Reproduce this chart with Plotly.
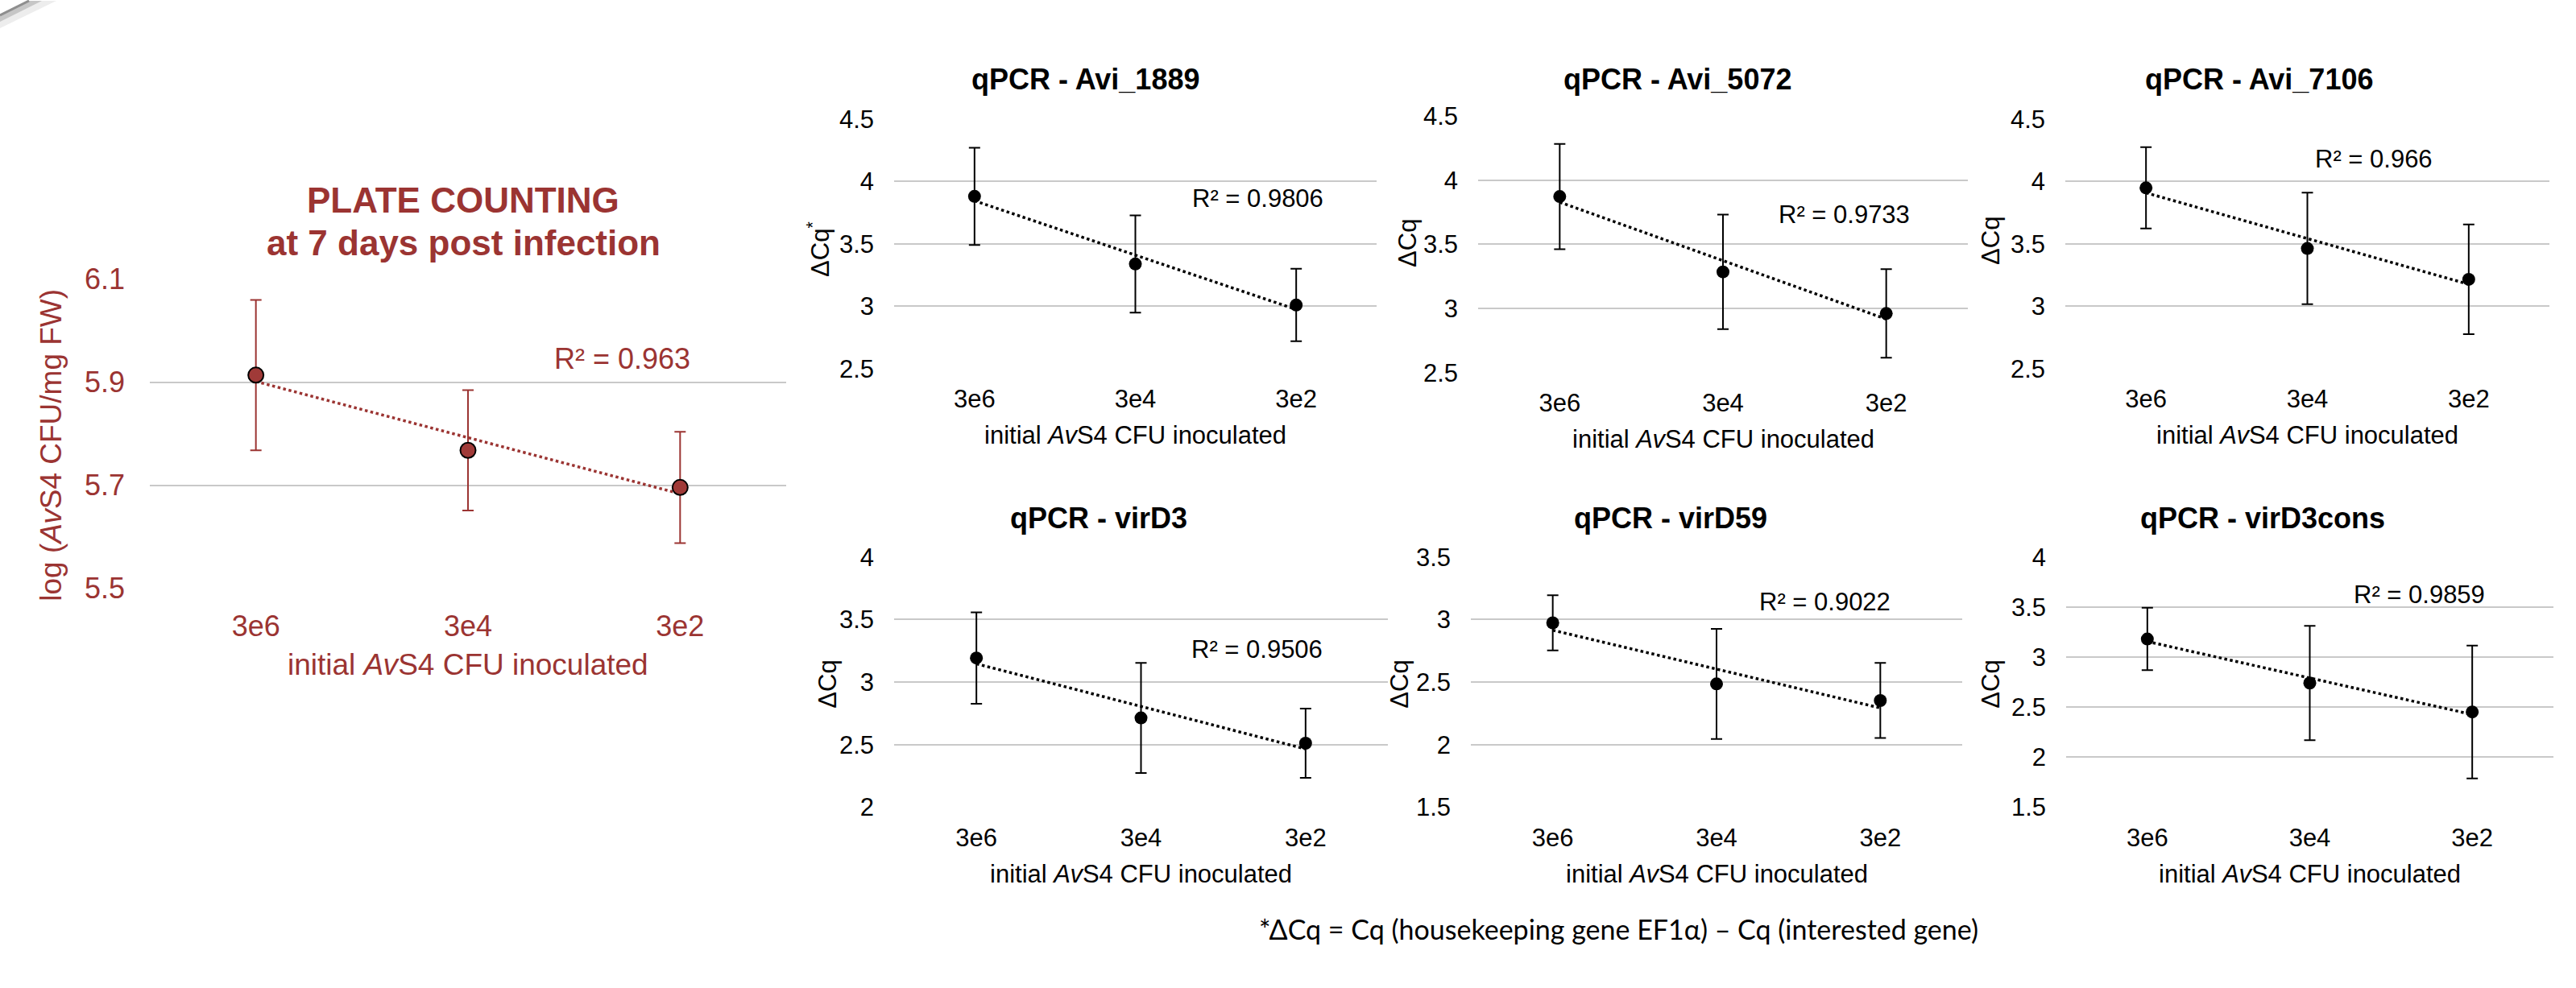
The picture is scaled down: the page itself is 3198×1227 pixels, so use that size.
import numpy as np
import plotly.graph_objects as go

W, H = 3198, 1227

# ---------------- data ----------------
categories = ["3e6", "3e4", "3e2"]

plate_mean = [5.914, 5.768, 5.696]
plate_err = [0.146, 0.117, 0.108]
plate_r2 = "0.963"

avi1889_mean = [3.881, 3.339, 3.010]
avi1889_err = [0.39, 0.39, 0.29]
avi5072_mean = [3.872, 3.285, 2.961]
avi5072_err = [0.41, 0.446, 0.345]
avi7106_mean = [3.949, 3.463, 3.216]
avi7106_err = [0.326, 0.447, 0.44]
virD3_mean = [3.193, 2.714, 2.512]
virD3_err = [0.365, 0.44, 0.277]
virD59_mean = [2.974, 2.486, 2.353]
virD59_err = [0.22, 0.44, 0.30]
virD3cons_mean = [3.181, 2.741, 2.452]
virD3cons_err = [0.312, 0.571, 0.664]

qpcr_titles = ["qPCR - Avi_1889", "qPCR - Avi_5072", "qPCR - Avi_7106",
               "qPCR - virD3", "qPCR - virD59", "qPCR - virD3cons"]
qpcr_r2 = ["0.9806", "0.9733", "0.966", "0.9506", "0.9022", "0.9859"]
qpcr_ylabels = ["ΔCq<sup>*</sup>", "ΔCq", "ΔCq", "ΔCq", "ΔCq", "ΔCq"]
qpcr_yranges = [(2.5, 4.5), (2.5, 4.5), (2.5, 4.5), (2.0, 4.0), (1.5, 3.5), (1.5, 4.0)]
qpcr_means = [avi1889_mean, avi5072_mean, avi7106_mean, virD3_mean, virD59_mean, virD3cons_mean]
qpcr_errs = [avi1889_err, avi5072_err, avi7106_err, virD3_err, virD59_err, virD3cons_err]

xtitle = "initial <i>Av</i>S4 CFU inoculated"
footnote = "*ΔCq = Cq (housekeeping gene EF1α) – Cq (interested gene)"

# ---------------- layout geometry (pixels) ----------------
plate_box = (186, 976, 346, 730)
qpcr_boxes = [
    (1110, 1709, 147, 457),
    (1835, 2443, 143, 462),
    (2564, 3165, 147, 457),
    (1110, 1723, 691, 1002),
    (1826, 2436, 691, 1002),
    (2565, 3170, 691, 1002),
]
qpcr_title_pos = [(1347, 98), (2082, 98), (2804, 98), (1364, 643), (2074, 643), (2809, 643)]
qpcr_r2_pos = [(1561, 246), (2289, 266), (2947, 197), (1560, 806), (2265, 747), (3003, 738)]
qpcr_ytitle_pos = [(1016, 309), (1748, 301), (2472, 298), (1028, 849), (1738, 849), (2472, 849)]

RED = "#9B3432"
MRED = "#A03A38"
GRID = "#C9C9C9"
FONT = "Liberation Sans, Arial, sans-serif"


def px(x):
    return x / W


def py(y):
    # vertical correction observed between requested and photographed positions
    yc = (y - 19.0) / 0.967
    return 1 - yc / H


fig = go.Figure()
annotations = []
xi = np.arange(len(categories))


def add_panel(idx, box, means, errs, yrange, color, mcolor, msize, mline, tick_size, standoff_x, standoff_y):
    xl, xr, yt, yb = box
    xa = "xaxis" if idx == 1 else f"xaxis{idx}"
    ya = "yaxis" if idx == 1 else f"yaxis{idx}"
    xref = "x" if idx == 1 else f"x{idx}"
    yref = "y" if idx == 1 else f"y{idx}"
    k, b = np.polyfit(xi, np.array(means), 1)
    xs = np.array([xi[0], xi[-1]])
    fig.add_trace(go.Scatter(x=xs, y=k * xs + b, mode="lines",
                             line=dict(color=color, width=3.5, dash="dot"),
                             xaxis=xref, yaxis=yref, showlegend=False, hoverinfo="skip"))
    fig.add_trace(go.Scatter(x=xi, y=means, mode="markers",
                             marker=dict(color=mcolor, size=msize, line=mline),
                             error_y=dict(type="data", array=errs, visible=True, color=color,
                                          thickness=2, width=7),
                             xaxis=xref, yaxis=yref, showlegend=False, cliponaxis=False))
    fig.layout[xa] = dict(domain=[px(xl), px(xr)], range=[-0.5, 2.5], tickmode="array",
                          tickvals=list(xi), ticktext=categories, showgrid=False, zeroline=False,
                          showline=False, ticks="", ticklabelstandoff=standoff_x,
                          tickfont=dict(family=FONT, size=tick_size, color=color),
                          anchor=yref, fixedrange=True)
    fig.layout[ya] = dict(domain=[py(yb), py(yt)], range=list(yrange), dtick=0.5 if idx > 1 else 0.2,
                          tick0=yrange[0], showgrid=True, gridcolor=GRID, gridwidth=2,
                          zeroline=False, showline=False, ticks="", ticklabelstandoff=standoff_y,
                          tickfont=dict(family=FONT, size=tick_size, color=color),
                          anchor=xref, fixedrange=True)


add_panel(1, plate_box, plate_mean, plate_err, (5.5, 6.1), RED, MRED, 19,
          dict(color="black", width=2), 36, 22, 30)
fig.layout["yaxis"]["tickformat"] = ".1f"

annotations += [
    dict(text="<b>PLATE COUNTING</b>", x=px(575), y=py(248), font=dict(size=44, color=RED, family=FONT)),
    dict(text="<b>at 7 days post infection</b>", x=px(575), y=py(301), font=dict(size=44, color=RED, family=FONT)),
    dict(text="R² = " + plate_r2, x=px(772), y=py(445), font=dict(size=36, color=RED, family=FONT)),
    dict(text=xtitle, x=px(581), y=py(825), font=dict(size=37, color=RED, family=FONT)),
    dict(text="log (<i>Av</i>S4 CFU/mg FW)", x=px(64), y=py(552), textangle=-90,
         font=dict(size=37, color=RED, family=FONT)),
]

for i in range(6):
    idx = i + 2
    add_panel(idx, qpcr_boxes[i], qpcr_means[i], qpcr_errs[i], qpcr_yranges[i], "black", "black", 16,
              dict(width=0), 31, 16, 24)
    xl, xr, yt, yb = qpcr_boxes[i]
    tx, ty = qpcr_title_pos[i]
    rx, ry = qpcr_r2_pos[i]
    yx, yy = qpcr_ytitle_pos[i]
    annotations += [
        dict(text="<b>" + qpcr_titles[i] + "</b>", x=px(tx), y=py(ty), font=dict(size=36, color="black", family=FONT)),
        dict(text="R² = " + qpcr_r2[i], x=px(rx), y=py(ry), font=dict(size=31, color="black", family=FONT)),
        dict(text=xtitle, x=px((xl + xr) / 2), y=py(yb + 83), font=dict(size=31, color="black", family=FONT)),
        dict(text=qpcr_ylabels[i], x=px(yx), y=py(yy), textangle=-90,
             font=dict(size=31, color="black", family=FONT)),
    ]

annotations.append(dict(text=footnote, x=px(2010), y=py(1153),
                        font=dict(size=34, color="black", family="Lato, Open Sans, sans-serif")))

for a in annotations:
    a.update(xref="paper", yref="paper", showarrow=False, xanchor="center", yanchor="middle")


def corner_path(pts):
    return "M " + " L ".join(f"{px(x)},{py(y)}" for x, y in pts) + " Z"


corner_shapes = [
    # soft shadow of the page-curl in the top-left corner
    dict(type="path", xref="paper", yref="paper", path=corner_path([(0, 17), (34, 0), (70, 0), (0, 34)]),
         fillcolor="#EDEDED", line=dict(width=0), layer="below"),
    dict(type="path", xref="paper", yref="paper", path=corner_path([(0, 17), (34, 0), (52, 0), (0, 26)]),
         fillcolor="#C6C6C6", line=dict(width=0), layer="below"),
    dict(type="line", xref="paper", yref="paper", x0=0, y0=py(18), x1=px(36), y1=py(0),
         line=dict(color="#8E8E8E", width=3)),
]

fig.update_layout(
    width=W, height=H, margin=dict(l=0, r=0, t=0, b=0),
    paper_bgcolor="white", plot_bgcolor="white",
    annotations=annotations, showlegend=False,
    shapes=corner_shapes,
)

fig.write_html("out.html", config={"displayModeBar": False},
               post_script="document.body.style.margin='0';document.body.style.overflow='hidden';")
